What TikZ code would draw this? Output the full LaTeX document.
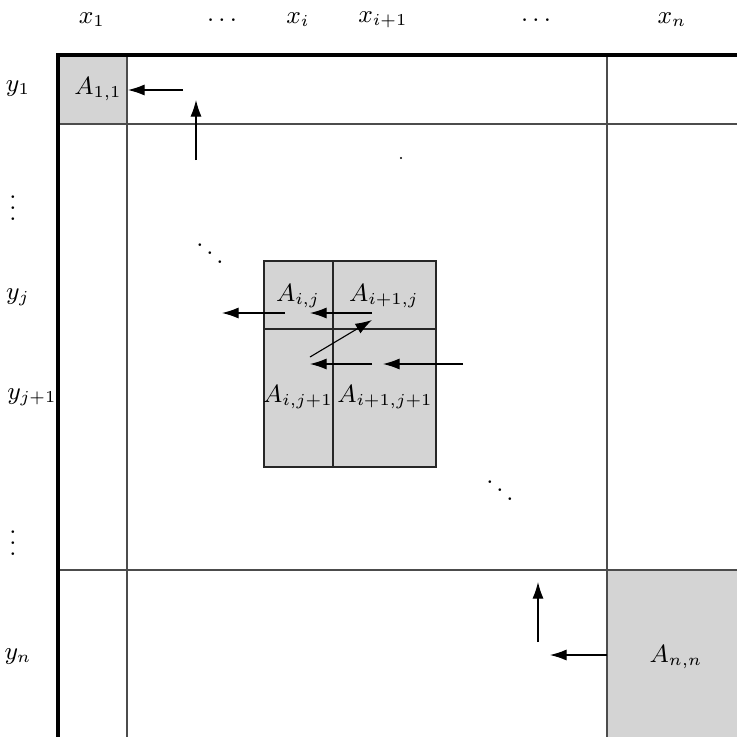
\documentclass[tikz,border=0pt]{standalone}
\usetikzlibrary{arrows.meta}
\begin{document}
\begin{tikzpicture}[x=0.36pt,y=-0.36pt,
  grid/.style={draw=black!70,line width=0.4pt},
  inner/.style={draw=black!85,line width=0.4pt},
  border/.style={draw=black,line width=1.1pt},
  cellfill/.style={fill=black!17},
  arr/.style={-{Latex[length=6pt,width=4pt]},line width=0.4pt},
  lab/.style={inner sep=0pt,font=\small}]
\useasboundingbox (0,0) rectangle (737,737);
% shaded cells
\fill[cellfill] (58,55) rectangle (127,124);
\fill[cellfill] (607,570) rectangle (737,737);
\fill[cellfill] (264,261) rectangle (436,467);
% outer grid
\draw[grid] (127,55) -- (127,737);
\draw[grid] (607,55) -- (607,737);
\draw[grid] (58,124) -- (737,124);
\draw[grid] (58,570) -- (737,570);
% inner block
\draw[inner] (264,261) rectangle (436,467);
\draw[inner] (333,261) -- (333,467);
\draw[inner] (264,329) -- (436,329);
% border
\draw[border] (737,55) -- (58,55) -- (58,737);
% labels
\node[lab] (x1) at (92,20) {$x_1$};
\node[lab] (xd1) at (222,20) {$\dots$};
\node[lab] (xi) at (298,20) {$x_i$};
\node[lab] (xip) at (383,20) {$x_{i+1}$};
\node[lab] (xd2) at (536,20) {$\dots$};
\node[lab] (xn) at (672,20) {$x_n$};
\node[lab] (y1) at (18,89) {$y_1$};
\node[lab] (yd1) at (13,200) {$\vdots$};
\node[lab] (yj) at (18,297) {$y_j$};
\node[lab] (yjp) at (32,397) {$y_{j+1}$};
\node[lab] (yd2) at (13,535) {$\vdots$};
\node[lab] (yn) at (18,657) {$y_n$};
\node[lab] (A11) at (98,89) {$A_{1,1}$};
\node[lab] (Aij) at (298,296) {$A_{i,j}$};
\node[lab] (Aipj) at (384,296) {$A_{i+1,j}$};
\node[lab] (Aijp) at (298,397) {$A_{i,j+1}$};
\node[lab] (Aipjp) at (385,397) {$A_{i+1,j+1}$};
\node[lab] (Ann) at (676,657) {$A_{n,n}$};
\node[lab] (dd1) at (210,245) {$\ddots$};
\node[lab] (dd2) at (500,482) {$\ddots$};
\fill (401,158) circle (1.2);
% arrow coordinates
\coordinate (a1s) at (183,90); \coordinate (a1e) at (128,90);
\coordinate (u1s) at (196,160); \coordinate (u1e) at (196,100);
\coordinate (m1s) at (285,313); \coordinate (m1e) at (222,313);
\coordinate (m2s) at (372,313); \coordinate (m2e) at (310,313);
\coordinate (dgs) at (310,357); \coordinate (dge) at (372,320);
\coordinate (m3s) at (372,364); \coordinate (m3e) at (310,364);
\coordinate (m4s) at (463,364); \coordinate (m4e) at (383,364);
\coordinate (b1s) at (538,642); \coordinate (b1e) at (538,582);
\coordinate (b2s) at (607,655); \coordinate (b2e) at (550,655);
\draw[arr] (a1s) -- (a1e);
\draw[arr] (u1s) -- (u1e);
\draw[arr] (m1s) -- (m1e);
\draw[arr] (m2s) -- (m2e);
\draw[arr] (dgs) -- (dge);
\draw[arr] (m3s) -- (m3e);
\draw[arr] (m4s) -- (m4e);
\draw[arr] (b1s) -- (b1e);
\draw[arr] (b2s) -- (b2e);
\end{tikzpicture}
\end{document}
